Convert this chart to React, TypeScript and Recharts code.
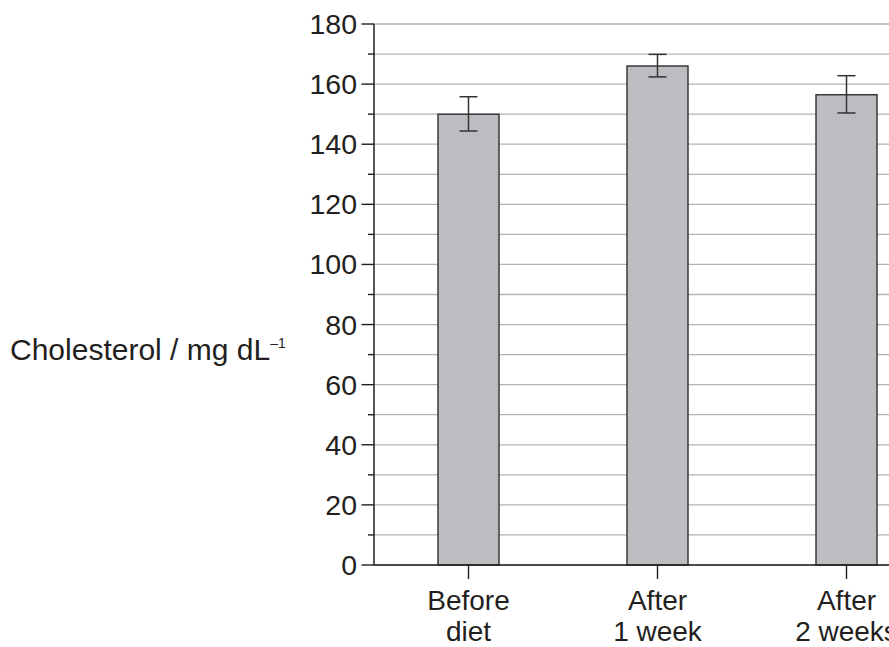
import React from "react";
import { BarChart, Bar, XAxis, YAxis, CartesianGrid, ErrorBar, Label } from "recharts";

// values
const stages = ["Before diet", "After 1 week", "After 2 weeks"];
const labelTop = ["Before", "After", "After"];
const labelBottom = ["diet", "1 week", "2 weeks"];
const cholesterol = [150, 166, 156.5];
const errLow = [5.6, 3.6, 6.1];
const errHigh = [5.8, 3.9, 6.3];
const yTicks = [0, 10, 20, 30, 40, 50, 60, 70, 80, 90, 100, 110, 120, 130, 140, 150, 160, 170, 180];

const data = stages.map((s, i) => ({
  stage: s,
  top: labelTop[i],
  bottom: labelBottom[i],
  value: cholesterol[i],
  err: [errLow[i], errHigh[i]],
}));

const FONT = '"Liberation Sans", Arial, sans-serif';
const INK = "#231f20";

function YTick(props: any) {
  const { x, y, payload } = props;
  const v = payload.value as number;
  const major = v % 20 === 0;
  return (
    <g>
      <line x1={x - (major ? 12.5 : 6)} x2={x} y1={y} y2={y} stroke={INK} strokeWidth={1.4} />
      {major && (
        <text x={x - 17} y={y + 10} textAnchor="end" fontSize={28.5} fontFamily={FONT} fill={INK}>
          {v}
        </text>
      )}
    </g>
  );
}

function XTick(props: any) {
  const { x, y, payload } = props;
  const row = data.find((d) => d.stage === payload.value);
  return (
    <g>
      <line x1={x} x2={x} y1={y} y2={y + 14} stroke={INK} strokeWidth={1.4} />
      <text x={x} y={y + 45} textAnchor="middle" fontSize={28} fontFamily={FONT} fill={INK}>
        {row?.top}
      </text>
      <text x={x} y={y + 76} textAnchor="middle" fontSize={28} fontFamily={FONT} fill={INK}>
        {row?.bottom}
      </text>
    </g>
  );
}

function YLabel(props: any) {
  const vb = props.viewBox || { x: 0 };
  return (
    <text x={vb.x + 10} y={360} fontSize={30} fontFamily={FONT} fill={INK}>
      Cholesterol / mg dL
      <tspan dy={-12} fontSize={14}>–1</tspan>
    </text>
  );
}

export default function App() {
  return (
    <div
      style={{
        position: "absolute",
        left: 0,
        top: 0,
        width: 889,
        height: 647,
        overflow: "hidden",
        background: "#fff",
      }}
    >
      <BarChart
        width={960}
        height={647}
        data={data}
        margin={{ top: 24, right: 19, bottom: 0, left: 0 }}
        barSize={61}
      >
        <CartesianGrid vertical={false} stroke="#b3b3b3" strokeWidth={1.3} />
        <XAxis
          dataKey="stage"
          height={82}
          tick={<XTick />}
          tickSize={0}
          tickMargin={0}
          axisLine={{ stroke: INK, strokeWidth: 1.5 }}
          tickLine={false}
          interval={0}
        />
        <YAxis
          width={374}
          domain={[0, 180]}
          ticks={yTicks}
          interval={0}
          tick={<YTick />}
          tickSize={0}
          tickMargin={0}
          tickLine={false}
          axisLine={{ stroke: INK, strokeWidth: 1.5 }}
        >
          <Label content={<YLabel />} />
        </YAxis>
        <Bar dataKey="value" fill="#bcbdc0" stroke="#3a3a3a" strokeWidth={1.5} isAnimationActive={false}>
          <ErrorBar dataKey="err" width={9} stroke="#333" strokeWidth={1.5} isAnimationActive={false} />
        </Bar>
      </BarChart>
    </div>
  );
}
